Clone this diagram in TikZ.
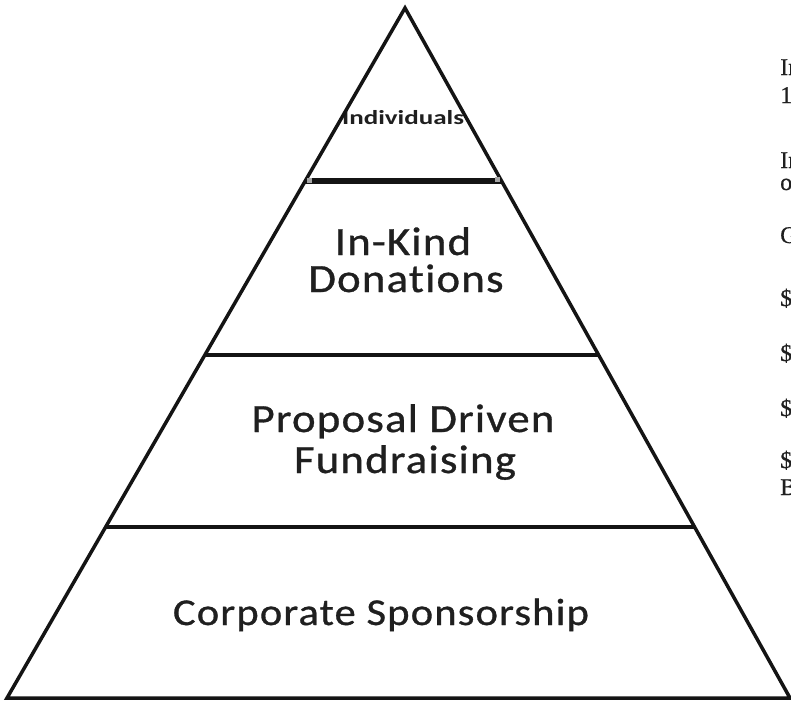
\documentclass[tikz,border=0pt]{standalone}
\usepackage{fontspec}
\usetikzlibrary{calc}
\newfontfamily\pyrfont[FakeStretch=1.12,LetterSpace=3,FakeBold=0.8,Ligatures=CommonOff]{Carlito}
\newfontfamily\topfont[FakeStretch=1.35,Ligatures=CommonOff]{Carlito}
\newfontfamily\sidefont[FakeBold=0.6]{Liberation Serif}
\begin{document}
\begin{tikzpicture}[x=1pt,y=-1pt,
  edge/.style={line width=3.5pt,draw=black!92,line join=miter},
  tier/.style={line width=3.5pt,draw=black!92},
  toptier/.style={line width=5.5pt,draw=black!92},
  handle/.style={fill=black!35,minimum size=5pt,inner sep=0pt},
  tierlabel/.style={font=\pyrfont\fontsize{40}{40}\selectfont,text=black!88,anchor=base,inner sep=0pt},
  baselabel/.style={font=\pyrfont\fontsize{38}{38}\selectfont,text=black!88,anchor=base,inner sep=0pt},
  toplabel/.style={font=\topfont\bfseries\fontsize{20}{20}\selectfont,text=black!88,anchor=base,inner sep=0pt},
  sidetext/.style={font=\sidefont\fontsize{24}{24}\selectfont,text=black!88,anchor=base west,inner sep=0pt}]
\clip (0,0) rectangle (791,704);
\fill[white] (0,0) rectangle (791,704);
% corners
\coordinate (apex) at (405,8);
\coordinate (bl) at (7,698);
\coordinate (br) at (790,698);
\coordinate (l1) at ($(apex)!0.2507!(bl)$);
\coordinate (r1) at ($(apex)!0.2507!(br)$);
\coordinate (l2) at ($(apex)!0.5029!(bl)$);
\coordinate (r2) at ($(apex)!0.5029!(br)$);
\coordinate (l3) at ($(apex)!0.7522!(bl)$);
\coordinate (r3) at ($(apex)!0.7522!(br)$);
% labels
\node[toplabel] (indiv) at (403,124) {Individuals};
\node[tierlabel] (inkind) at (403,255) {In-Kind};
\node[tierlabel] (donat) at (406,292) {Donations};
\node[tierlabel] (propo) at (403,432) {Proposal Driven};
\node[tierlabel] (fundr) at (405,473) {Fundraising};
\node[baselabel] (corpo) at (381,625) {Corporate Sponsorship};
% pyramid
\draw[edge] (apex) -- (br) -- (bl) -- cycle;
\draw[toptier] (l1) -- (r1);
\draw[tier] (l2) -- (r2);
\draw[tier] (l3) -- (r3);
\node[handle] (h1) at ($(l1)+(4,0)$) {};
\node[handle] (h2) at ($(r1)+(-4,-1)$) {};
% side text (cut off at the edge, as in the reference)
\node[sidetext] (s1) at (780,75) {In};
\node[sidetext] (s2) at (780,103) {1};
\node[sidetext] (s3) at (780,168) {In};
\node[sidetext] (s4) at (780,190) {o};
\node[sidetext] (s5) at (780,243) {G};
\node[sidetext] (s6) at (780,306) {\$};
\node[sidetext] (s7) at (780,361) {\$};
\node[sidetext] (s8) at (780,416) {\$};
\node[sidetext] (s9) at (780,468) {\$};
\node[sidetext] (s10) at (780,495) {B};
\end{tikzpicture}
\end{document}
